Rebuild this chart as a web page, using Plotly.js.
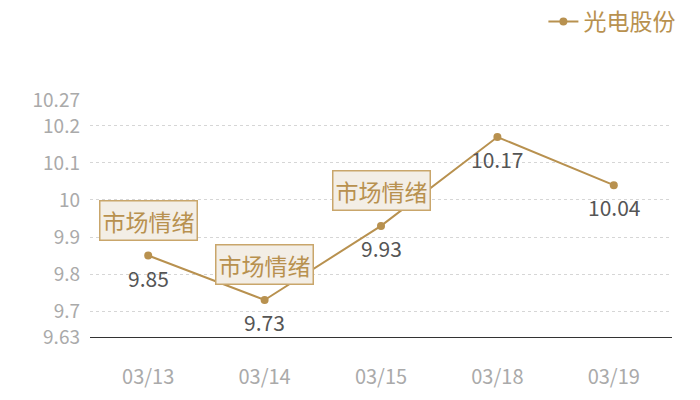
<!DOCTYPE html>
<html>
<head>
<meta charset="utf-8">
<script src="https://cdn.plot.ly/plotly-3.0.1.min.js"></script>
<style>
  html, body { margin: 0; padding: 0; background: #fff; }
  #chart { width: 700px; height: 400px; }
</style>
</head>
<body>
<div id="chart"></div>
<script>
// data
const dates = ['03/13', '03/14', '03/15', '03/18', '03/19']
const prices = [9.85, 9.73, 9.93, 10.17, 10.04]
const seriesName = '光电股份'
const yTicks = [9.63, 9.7, 9.8, 9.9, 10, 10.1, 10.2, 10.27]
const noteDates = ['03/13', '03/14', '03/15']
const noteText = '市场情绪'

const gold = '#b8914f'
const cjk = '"Noto Sans CJK SC", "Noto Sans", sans-serif'

let trace = {
    type: 'scatter',
    x: dates,
    y: prices,
    mode: 'lines+markers',
    name: seriesName,
    line: { color: gold, width: 2 },
    marker: { color: gold, size: 8 },
    cliponaxis: false
}

// value labels under each point
let valueLabels = dates.map((d, i) => ({
    x: d,
    y: prices[i],
    xref: 'x',
    yref: 'y',
    text: prices[i].toFixed(2),
    showarrow: false,
    yanchor: 'middle',
    yshift: -22,
    font: { family: cjk, size: 21, color: '#555555' }
}))

// boxes sitting above the first points
let notes = noteDates.map(d => ({
    x: d,
    y: prices[dates.indexOf(d)],
    xref: 'x',
    yref: 'y',
    text: noteText,
    showarrow: false,
    yanchor: 'middle',
    yshift: 35,
    font: { family: cjk, size: 23, color: gold },
    bgcolor: '#f3eee6',
    bordercolor: '#c9a66b',
    borderwidth: 1.5,
    borderpad: 2
}))

let layout = {
    width: 700,
    height: 400,
    margin: { l: 90, r: 28, t: 100, b: 63 },
    paper_bgcolor: '#ffffff',
    plot_bgcolor: '#ffffff',
    font: { family: cjk, color: '#aaaaaa' },
    showlegend: true,
    legend: {
        orientation: 'h',
        xref: 'container',
        yref: 'container',
        x: 0.972,
        xanchor: 'right',
        y: 1,
        yanchor: 'top',
        font: { family: cjk, size: 23, color: gold },
        bgcolor: 'rgba(0,0,0,0)'
    },
    xaxis: {
        type: 'category',
        range: [-0.5, 4.5],
        showgrid: false,
        zeroline: false,
        showline: true,
        linecolor: '#333333',
        linewidth: 1,
        ticks: '',
        tickfont: { family: cjk, size: 20, color: '#aaaaaa' },
        ticklabelstandoff: 22
    },
    yaxis: {
        range: [9.63, 10.27],
        tickmode: 'array',
        tickvals: yTicks,
        ticktext: yTicks.map(String),
        showgrid: true,
        gridcolor: '#d6d6d6',
        griddash: 'dot',
        gridwidth: 1,
        zeroline: false,
        showline: false,
        ticks: '',
        ticklabelstandoff: 9,
        tickfont: { family: cjk, size: 19, color: '#aaaaaa' }
    },
    annotations: notes.concat(valueLabels)
}

Plotly.newPlot('chart', [trace], layout, { displayModeBar: false, staticPlot: true })
</script>
</body>
</html>
